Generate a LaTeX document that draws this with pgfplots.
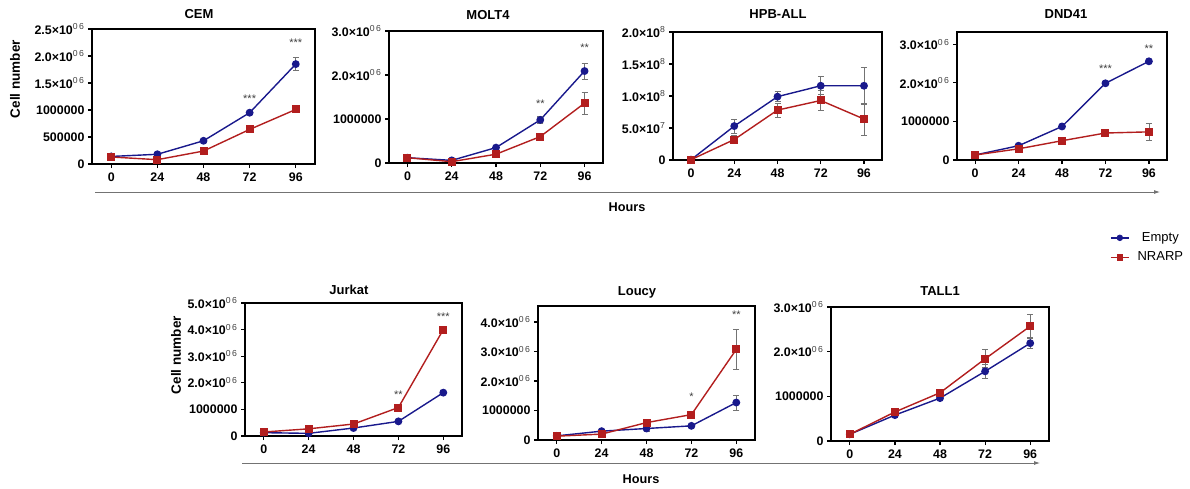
\documentclass[border=0pt]{standalone}
\usepackage{pgfplots}
\pgfplotsset{compat=1.18}
\usepackage{fontspec}
\setmainfont{Liberation Sans}
\usetikzlibrary{arrows.meta}
\definecolor{cblue}{RGB}{25,25,140}
\definecolor{cred}{RGB}{178,30,30}
\definecolor{cerr}{RGB}{115,115,115}
\newcommand{\E}[1]{\textsuperscript{\mdseries\color{darkgray}#1}}
\pgfplotsset{
  panel/.style={
    scale only axis, anchor=north west,
    xmin=-10, xmax=106, ymin=0,
    xtick={0,24,48,72,96}, xticklabels={0,24,48,72,96},
    axis line style={line width=1.5pt},
    tick style={black, line width=1.2pt},
    tick align=outside, tick pos=left, major tick length=4pt,
    ticklabel style={font=\fontsize{12.4}{14}\selectfont\bfseries},
    xticklabel style={yshift=-1.5pt},
    scaled y ticks=false, clip=false,
    legend style={draw=none, fill=none, inner sep=0pt, font=\fontsize{13}{14}\selectfont, row sep=5pt,
      /tikz/every odd column/.append style={column sep=6pt}},
    legend image code/.code={\draw[#1, mark=none, line width=1.5pt] (0pt,0pt) -- (18pt,0pt);
      \draw[#1, line width=0.8pt] plot coordinates {(9pt,0pt)};},
  },
  emptyline/.style={cblue, line width=1.4pt, mark=*, mark size=3.2pt, mark options={solid, fill=cblue}},
  nrarpline/.style={cred, line width=1.4pt, mark=square*, mark size=3.3pt, mark options={solid, fill=cred}},
  errs/.style={error bars/y dir=both, error bars/y explicit,
    error bars/error bar style={cerr, line width=0.8pt},
    error bars/error mark options={cerr, rotate=90, mark size=3pt, line width=0.8pt}},
  empty/.style={emptyline, errs},
  nrarp/.style={nrarpline, errs},
}
\tikzset{
  star/.style={font=\fontsize{11}{12}\selectfont, text=darkgray, inner sep=0pt, anchor=center},
  ptitle/.style={font=\fontsize{13}{14}\selectfont\bfseries, anchor=base},
}
\begin{document}
\begin{tikzpicture}
\useasboundingbox (0pt,0pt) rectangle (1190pt,-488pt);

% ---------- CEM
\begin{axis}[panel, at={(92pt,-29pt)}, width=223pt, height=135pt, ymax=2500000,
  ytick={0,500000,1000000,1500000,2000000,2500000},
  yticklabels={0,500000,1000000,1.5×10\E{0\,6},2.0×10\E{0\,6},2.5×10\E{0\,6}}]
\addplot+[empty] coordinates {(0,140000) +- (0,20000) (24,180000) +- (0,20000) (48,430000) +- (0,30000) (72,950000) +- (0,30000) (96,1850000) +- (0,120000)};
\addplot+[nrarp] coordinates {(0,130000) +- (0,20000) (24,80000) +- (0,20000) (48,240000) +- (0,70000) (72,640000) +- (0,30000) (96,1010000) +- (0,60000)};
\node[star] at (axis cs:72,1200000) {***};
\node[star] at (axis cs:96,2240000) {***};
\end{axis}

% ---------- MOLT4
\begin{axis}[panel, at={(389pt,-31pt)}, width=214pt, height=132pt, ymax=3000000,
  ytick={0,1000000,2000000,3000000},
  yticklabels={0,1000000,2.0×10\E{0\,6},3.0×10\E{0\,6}}]
\addplot+[empty] coordinates {(0,120000) +- (0,15000) (24,60000) +- (0,10000) (48,350000) +- (0,30000) (72,980000) +- (0,80000) (96,2090000) +- (0,180000)};
\addplot+[nrarp] coordinates {(0,120000) +- (0,15000) (24,30000) +- (0,10000) (48,200000) +- (0,30000) (72,600000) +- (0,70000) (96,1360000) +- (0,250000)};
\node[star] at (axis cs:72,1340000) {**};
\node[star] at (axis cs:96,2620000) {**};
\end{axis}

% ---------- HPB-ALL
\begin{axis}[panel, at={(673pt,-32pt)}, width=209pt, height=128pt, ymax=200000000,
  ytick={0,50000000,100000000,150000000,200000000},
  yticklabels={0,5.0×10\E{7},1.0×10\E{8},1.5×10\E{8},2.0×10\E{8}}]
\addplot+[empty] coordinates {(0,500000) +- (0,0) (24,53000000) +- (0,11000000) (48,99000000) +- (0,8000000) (72,116000000) +- (0,14000000) (96,116000000) +- (0,29000000)};
\addplot+[nrarp] coordinates {(0,500000) +- (0,0) (24,32000000) +- (0,6000000) (48,78000000) +- (0,11000000) (72,93000000) +- (0,16000000) (96,64000000) +- (0,25000000)};
\end{axis}

% ---------- DND41
\begin{axis}[panel, at={(957pt,-32pt)}, width=210pt, height=128pt, ymax=3320000,
  ytick={0,1000000,2000000,3000000},
  yticklabels={0,1000000,2.0×10\E{0\,6},3.0×10\E{0\,6}},
  legend style={at={(axis description cs:0.728,-0.55)}, anchor=north west}]
\addplot+[forget plot, empty] coordinates {(0,130000) +- (0,15000) (24,370000) +- (0,20000) (48,870000) +- (0,60000) (72,1990000) +- (0,50000) (96,2560000) +- (0,30000)};
\addplot+[forget plot, nrarp] coordinates {(0,130000) +- (0,15000) (24,290000) +- (0,20000) (48,500000) +- (0,30000) (72,700000) +- (0,50000) (96,730000) +- (0,210000)};
\node[star] at (axis cs:72,2360000) {***};
\node[star] at (axis cs:96,2880000) {**};
\addlegendimage{cblue, mark=*, mark size=2.8pt, mark options={solid, fill=cblue}}
\addlegendentry{Empty}
\addlegendimage{cred, mark=square*, mark size=2.9pt, mark options={solid, fill=cred}}
\addlegendentry{NRARP}
\end{axis}

% ---------- Jurkat
\begin{axis}[panel, at={(245pt,-303pt)}, width=217pt, height=133pt, ymax=5000000,
  ytick={0,1000000,2000000,3000000,4000000,5000000},
  yticklabels={0,1000000,2.0×10\E{0\,6},3.0×10\E{0\,6},4.0×10\E{0\,6},5.0×10\E{0\,6}}]
\addplot+[empty] coordinates {(0,125000) +- (0,10000) (24,100000) +- (0,10000) (48,300000) +- (0,20000) (72,550000) +- (0,20000) (96,1630000) +- (0,70000)};
\addplot+[nrarp] coordinates {(0,150000) +- (0,10000) (24,270000) +- (0,30000) (48,450000) +- (0,30000) (72,1070000) +- (0,40000) (96,4000000) +- (0,50000)};
\node[star] at (axis cs:72,1540000) {**};
\node[star] at (axis cs:96,4500000) {***};
\end{axis}

% ---------- Loucy
\begin{axis}[panel, at={(538pt,-306pt)}, width=217pt, height=134pt, ymax=4540000,
  ytick={0,1000000,2000000,3000000,4000000},
  yticklabels={0,1000000,2.0×10\E{0\,6},3.0×10\E{0\,6},4.0×10\E{0\,6}}]
\addplot+[empty] coordinates {(0,140000) +- (0,20000) (24,300000) +- (0,30000) (48,390000) +- (0,100000) (72,480000) +- (0,30000) (96,1270000) +- (0,250000)};
\addplot+[nrarp] coordinates {(0,130000) +- (0,60000) (24,200000) +- (0,30000) (48,590000) +- (0,40000) (72,860000) +- (0,100000) (96,3070000) +- (0,690000)};
\node[star] at (axis cs:72,1450000) {*};
\node[star] at (axis cs:96,4260000) {**};
\end{axis}

% ---------- TALL1
\begin{axis}[panel, at={(831pt,-307pt)}, width=218pt, height=134pt, ymax=3000000,
  ytick={0,1000000,2000000,3000000},
  yticklabels={0,1000000,2.0×10\E{0\,6},3.0×10\E{0\,6}}]
\addplot+[empty] coordinates {(0,150000) +- (0,10000) (24,580000) +- (0,20000) (48,960000) +- (0,40000) (72,1560000) +- (0,150000) (96,2190000) +- (0,120000)};
\addplot+[nrarp] coordinates {(0,150000) +- (0,10000) (24,650000) +- (0,30000) (48,1080000) +- (0,40000) (72,1840000) +- (0,200000) (96,2570000) +- (0,270000)};
\end{axis}

% ---------- titles
\node[ptitle] at (199pt,-18.5pt) {CEM};
\node[ptitle] at (488pt,-19pt) {MOLT4};
\node[ptitle] at (778pt,-18pt) {HPB-ALL};
\node[ptitle] at (1066pt,-18pt) {DND41};
\node[ptitle] at (349pt,-294pt) {Jurkat};
\node[ptitle] at (637pt,-295pt) {Loucy};
\node[ptitle] at (940pt,-295pt) {TALL1};

% ---------- y labels
\node[font=\fontsize{13.5}{14}\selectfont\bfseries, rotate=90] at (15pt,-79pt) {Cell number};
\node[font=\fontsize{13.5}{14}\selectfont\bfseries, rotate=90] at (176pt,-355pt) {Cell number};

% ---------- Hours arrows
\draw[cerr, line width=0.8pt, -{Latex[length=6pt,width=4pt]}] (95pt,-192pt) -- (1160pt,-192pt);
\draw[cerr, line width=0.8pt, -{Latex[length=6pt,width=4pt]}] (242pt,-463pt) -- (1040pt,-463pt);
\node[font=\fontsize{12.7}{14}\selectfont\bfseries, anchor=base] at (627pt,-211pt) {Hours};
\node[font=\fontsize{12.7}{14}\selectfont\bfseries, anchor=base] at (641pt,-483pt) {Hours};
\end{tikzpicture}
\end{document}
